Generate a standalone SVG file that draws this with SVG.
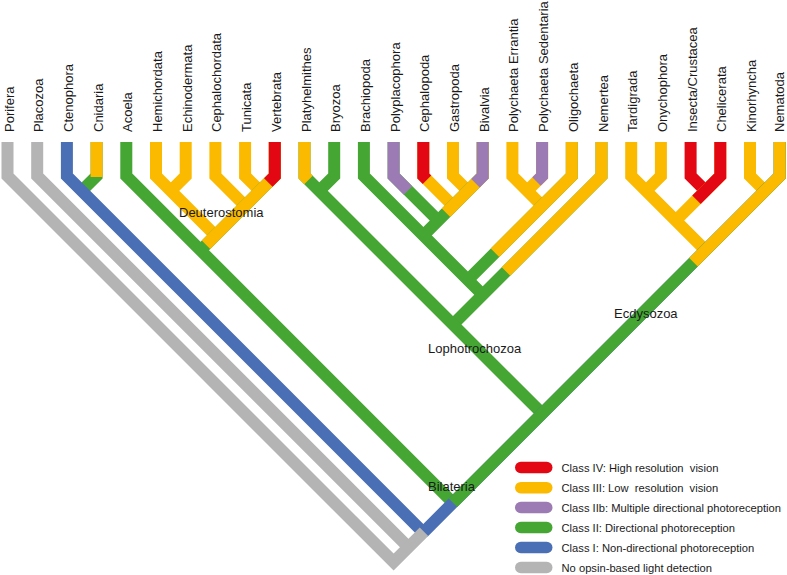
<svg xmlns="http://www.w3.org/2000/svg" width="787" height="575" viewBox="0 0 787 575">
<style>
.l{fill:none;stroke-width:12;stroke-linejoin:miter;stroke-linecap:butt}
.r{stroke:#e30613}.y{stroke:#fbba00}.p{stroke:#9c7ab4}.g{stroke:#45a634}.b{stroke:#4a6fb4}.k{stroke:#b4b4b4}
.t{font-family:"Liberation Sans",Arial,sans-serif;font-size:13px;fill:#1a1a1a}
.lg{font-family:"Liberation Sans",Arial,sans-serif;font-size:11.2px;fill:#1a1a1a}
.pill{stroke:none}
</style>
<rect width="787" height="575" fill="#ffffff"/>
<g id="connectors">
<polyline class="l y" points="453,142 453,176 467.85,190.85"/>
<polyline class="l y" points="423.3,142 423.3,176 453,205.7"/>
<polyline class="l r" points="423.3,142 423.3,176 427,179.7"/>
<polyline class="l g" points="393.6,142 393.6,176 438.15,220.55"/>
<polyline class="l p" points="393.6,142 393.6,176 408,190.4"/>
<polyline class="l y" points="542.1,142 542.1,176 527.25,190.85"/>
<polyline class="l p" points="542.1,142 542.1,176 536.5,181.6"/>
<polyline class="l g" points="482.7,142 482.7,176 423.3,235.4"/>
<polyline class="l y" points="482.7,142 482.7,176 446,212.7"/>
<polyline class="l p" points="482.7,142 482.7,176 475.5,183.2"/>
<polyline class="l y" points="512.4,142 512.4,176 542.1,205.7"/>
<polyline class="l y" points="245.1,142 245.1,176 259.95,190.85"/>
<polyline class="l g" points="571.8,142 571.8,176 467.85,279.95"/>
<polyline class="l y" points="571.8,142 571.8,176 495,252.8"/>
<polyline class="l y" points="660.9,142 660.9,176 646.05,190.85"/>
<polyline class="l r" points="690.6,142 690.6,176 705.45,190.85"/>
<polyline class="l y" points="185.7,142 185.7,176 170.85,190.85"/>
<polyline class="l y" points="215.4,142 215.4,176 245.1,205.7"/>
<polyline class="l g" points="334.2,142 334.2,176 319.35,190.85"/>
<polyline class="l g" points="363.9,142 363.9,176 482.7,294.8"/>
<polyline class="l y" points="750,142 750,176 764.85,190.85"/>
<polyline class="l y" points="720.3,142 720.3,176 675.75,220.55"/>
<polyline class="l r" points="720.3,142 720.3,176 696.5,199.8"/>
<polyline class="l y" points="156,142 156,176 215.4,235.4"/>
<polyline class="l g" points="601.5,142 601.5,176 453,324.5"/>
<polyline class="l y" points="601.5,142 601.5,176 506,271.5"/>
<polyline class="l y" points="631.2,142 631.2,176 705.45,250.25"/>
<polyline class="l g" points="274.8,142 274.8,176 200.55,250.25"/>
<polyline class="l y" points="274.8,142 274.8,176 206,244.8"/>
<polyline class="l r" points="274.8,142 274.8,176 268.3,182.5"/>
<polyline class="l g" points="304.5,142 304.5,176 542.1,413.6"/>
<polyline class="l y" points="304.5,142 304.5,176 308.5,180"/>
<polyline class="l g" points="96.6,142 96.6,176 81.75,190.85"/>
<polyline class="l y" points="96.6,142 96.6,177"/>
<polyline class="l g" points="126.3,142 126.3,176 453,502.7"/>
<polyline class="l b" points="66.9,142 66.9,176 423.3,532.4"/>
<polyline class="l b" points="779.7,142 779.7,176 423.3,532.4"/>
<polyline class="l g" points="779.7,142 779.7,176 453,502.7"/>
<polyline class="l y" points="779.7,142 779.7,176 693.5,262.2"/>
<polyline class="l k" points="37.2,142 37.2,176 408.45,547.25"/>
<polyline class="l k" points="7.5,142 7.5,176 393.6,562.1 424,531.7"/>
</g>
<g id="taxon-porifera"><text class="t" transform="translate(13.5,132) rotate(-90)">Porifera</text></g>
<g id="taxon-placozoa"><text class="t" transform="translate(43.2,132) rotate(-90)">Placozoa</text></g>
<g id="taxon-ctenophora"><text class="t" transform="translate(72.9,132) rotate(-90)">Ctenophora</text></g>
<g id="taxon-cnidaria"><text class="t" transform="translate(102.6,132) rotate(-90)">Cnidaria</text></g>
<g id="taxon-acoela"><text class="t" transform="translate(132.3,132) rotate(-90)">Acoela</text></g>
<g id="taxon-hemichordata"><text class="t" transform="translate(162,132) rotate(-90)">Hemichordata</text></g>
<g id="taxon-echinodermata"><text class="t" transform="translate(191.7,132) rotate(-90)">Echinodermata</text></g>
<g id="taxon-cephalochordata"><text class="t" transform="translate(221.4,132) rotate(-90)">Cephalochordata</text></g>
<g id="taxon-tunicata"><text class="t" transform="translate(251.1,132) rotate(-90)">Tunicata</text></g>
<g id="taxon-vertebrata"><text class="t" transform="translate(280.8,132) rotate(-90)">Vertebrata</text></g>
<g id="taxon-platyhelmithes"><text class="t" transform="translate(310.5,132) rotate(-90)">Platyhelmithes</text></g>
<g id="taxon-bryozoa"><text class="t" transform="translate(340.2,132) rotate(-90)">Bryozoa</text></g>
<g id="taxon-brachiopoda"><text class="t" transform="translate(369.9,132) rotate(-90)">Brachiopoda</text></g>
<g id="taxon-polyplacophora"><text class="t" transform="translate(399.6,132) rotate(-90)">Polyplacophora</text></g>
<g id="taxon-cephalopoda"><text class="t" transform="translate(429.3,132) rotate(-90)">Cephalopoda</text></g>
<g id="taxon-gastropoda"><text class="t" transform="translate(459,132) rotate(-90)">Gastropoda</text></g>
<g id="taxon-bivalvia"><text class="t" transform="translate(488.7,132) rotate(-90)">Bivalvia</text></g>
<g id="taxon-polychaeta-errantia"><text class="t" transform="translate(518.4,132) rotate(-90)">Polychaeta Errantia</text></g>
<g id="taxon-polychaeta-sedentaria"><text class="t" transform="translate(548.1,132) rotate(-90)">Polychaeta Sedentaria</text></g>
<g id="taxon-oligochaeta"><text class="t" transform="translate(577.8,132) rotate(-90)">Oligochaeta</text></g>
<g id="taxon-nemertea"><text class="t" transform="translate(607.5,132) rotate(-90)">Nemertea</text></g>
<g id="taxon-tardigrada"><text class="t" transform="translate(637.2,132) rotate(-90)">Tardigrada</text></g>
<g id="taxon-onychophora"><text class="t" transform="translate(666.9,132) rotate(-90)">Onychophora</text></g>
<g id="taxon-insecta-crustacea"><text class="t" transform="translate(696.6,132) rotate(-90)">Insecta/Crustacea</text></g>
<g id="taxon-chelicerata"><text class="t" transform="translate(726.3,132) rotate(-90)">Chelicerata</text></g>
<g id="taxon-kinorhyncha"><text class="t" transform="translate(756,132) rotate(-90)">Kinorhyncha</text></g>
<g id="taxon-nematoda"><text class="t" transform="translate(784,132) rotate(-90)">Nematoda</text></g>
<g id="clade-deuterostomia"><text class="t" x="179" y="217">Deuterostomia</text></g>
<g id="clade-lophotrochozoa"><text class="t" x="428" y="352.7">Lophotrochozoa</text></g>
<g id="clade-ecdysozoa"><text class="t" x="614" y="317.5">Ecdysozoa</text></g>
<g id="clade-bilateria"><text class="t" x="428" y="491.2">Bilateria</text></g>
<g id="legend">
<g id="legend-class4"><rect class="pill" x="515" y="461.7" width="37.5" height="11.6" rx="5.8" fill="#e30613"/><text class="lg" x="561.5" y="471.5" xml:space="preserve">Class IV: High resolution  vision</text></g>
<g id="legend-class3"><rect class="pill" x="515" y="481.9" width="37.5" height="11.6" rx="5.8" fill="#fbba00"/><text class="lg" x="561.5" y="491.7" xml:space="preserve">Class III: Low  resolution  vision</text></g>
<g id="legend-class2b"><rect class="pill" x="515" y="501.7" width="37.5" height="11.6" rx="5.8" fill="#9c7ab4"/><text class="lg" x="561.5" y="511.5">Class IIb: Multiple directional photoreception</text></g>
<g id="legend-class2"><rect class="pill" x="515" y="521.7" width="37.5" height="11.6" rx="5.8" fill="#45a634"/><text class="lg" x="561.5" y="531.5">Class II: Directional photoreception</text></g>
<g id="legend-class1"><rect class="pill" x="515" y="541.7" width="37.5" height="11.6" rx="5.8" fill="#4a6fb4"/><text class="lg" x="561.5" y="551.5">Class I: Non-directional photoreception</text></g>
<g id="legend-none"><rect class="pill" x="515" y="561.7" width="37.5" height="11.6" rx="5.8" fill="#b4b4b4"/><text class="lg" x="561.5" y="571.5">No opsin-based light detection</text></g>
</g>
</svg>
